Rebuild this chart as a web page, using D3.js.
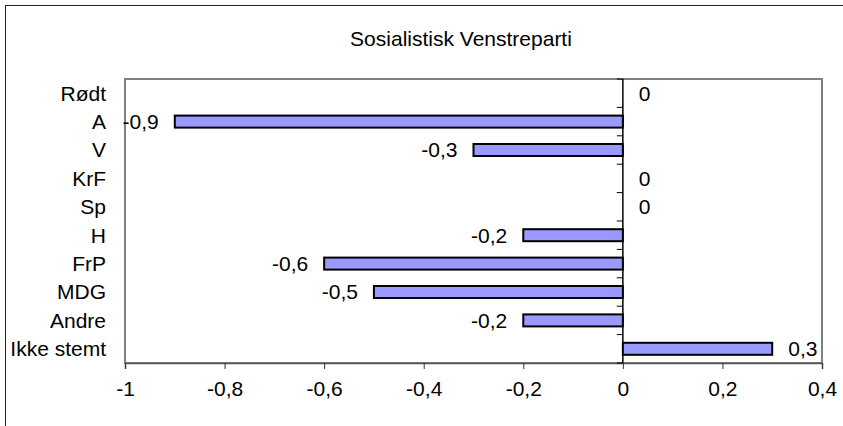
<!DOCTYPE html>
<html><head><meta charset="utf-8">
<script src="https://cdn.jsdelivr.net/npm/d3@7"></script>
<style>body{margin:0;background:#fff}svg{display:block}text{font-family:"Liberation Sans",Arial,sans-serif;fill:#000}</style>
</head><body><svg id="c" width="843" height="426"></svg>
<script>
const title = "Sosialistisk Venstreparti";
const categories = ["Rødt","A","V","KrF","Sp","H","FrP","MDG","Andre","Ikke stemt"];
const values = [0,-0.9,-0.3,0,0,-0.2,-0.6,-0.5,-0.2,0.3];
const xTicks = [-1,-0.8,-0.6,-0.4,-0.2,0,0.2,0.4];
const fmt = v => String(v).replace(".", ",");

const svg = d3.select("#c");
const fs = 21;
const plot = {l:125, t:79, r:822, b:363};

svg.append("rect").attr("x",5.5).attr("y",5.5).attr("width",860).attr("height",440)
  .attr("fill","none").attr("stroke","#222").attr("stroke-width",1);

svg.append("text").attr("x",461).attr("y",46).attr("text-anchor","middle")
  .attr("font-size",fs).text(title);

const x = d3.scaleLinear().domain([-1,0.4]).range([plot.l,plot.r]);
const y = d3.scaleBand().domain(categories).range([plot.t,plot.b]);

// plot border
svg.append("rect").attr("x",plot.l).attr("y",plot.t).attr("width",plot.r-plot.l).attr("height",plot.b-plot.t)
  .attr("fill","none").attr("stroke","#808080").attr("stroke-width",2);

// x axis
const xa = svg.append("g").attr("transform",`translate(0,${plot.b})`)
  .call(d3.axisBottom(x).tickValues(xTicks).tickFormat(fmt).tickSize(6).tickPadding(12));
xa.select(".domain").attr("stroke","#555").attr("stroke-width",1.5);
xa.selectAll(".tick line").attr("stroke","#333");
xa.selectAll("text").attr("font-size",fs).attr("font-family","Liberation Sans, Arial, sans-serif").attr("fill","#000");

// zero axis with ticks at band boundaries
const bounds = categories.map(c=>y(c)).concat([plot.b]);
svg.append("line").attr("x1",x(0)).attr("x2",x(0)).attr("y1",plot.t).attr("y2",plot.b).attr("stroke","#000").attr("stroke-width",1.5);
svg.selectAll(".yt").data(bounds).join("line").attr("class","yt")
  .attr("x1",x(0)-6).attr("x2",x(0)).attr("y1",d=>d).attr("y2",d=>d).attr("stroke","#000");

// category labels
svg.selectAll(".cl").data(categories).join("text").attr("class","cl")
  .attr("x",106).attr("y",d=>y(d)+y.bandwidth()/2).attr("dy","0.35em")
  .attr("text-anchor","end").attr("font-size",fs).text(d=>d);

const bh = 12;
const data = categories.map((c,i)=>({c, v:values[i]}));
svg.selectAll(".bar").data(data.filter(d=>d.v!==0)).join("rect").attr("class","bar")
  .attr("x",d=>x(Math.min(0,d.v))).attr("width",d=>Math.abs(x(d.v)-x(0)))
  .attr("y",d=>y(d.c)+y.bandwidth()/2-bh/2).attr("height",bh)
  .attr("fill","#9999ff").attr("stroke","#000").attr("stroke-width",2);

svg.selectAll(".vl").data(data).join("text").attr("class","vl")
  .attr("x",d=>d.v<0 ? x(d.v)-16 : x(d.v)+16)
  .attr("text-anchor",d=>d.v<0?"end":"start")
  .attr("y",d=>y(d.c)+y.bandwidth()/2).attr("dy","0.35em")
  .attr("font-size",fs).text(d=>fmt(d.v));
</script></body></html>
